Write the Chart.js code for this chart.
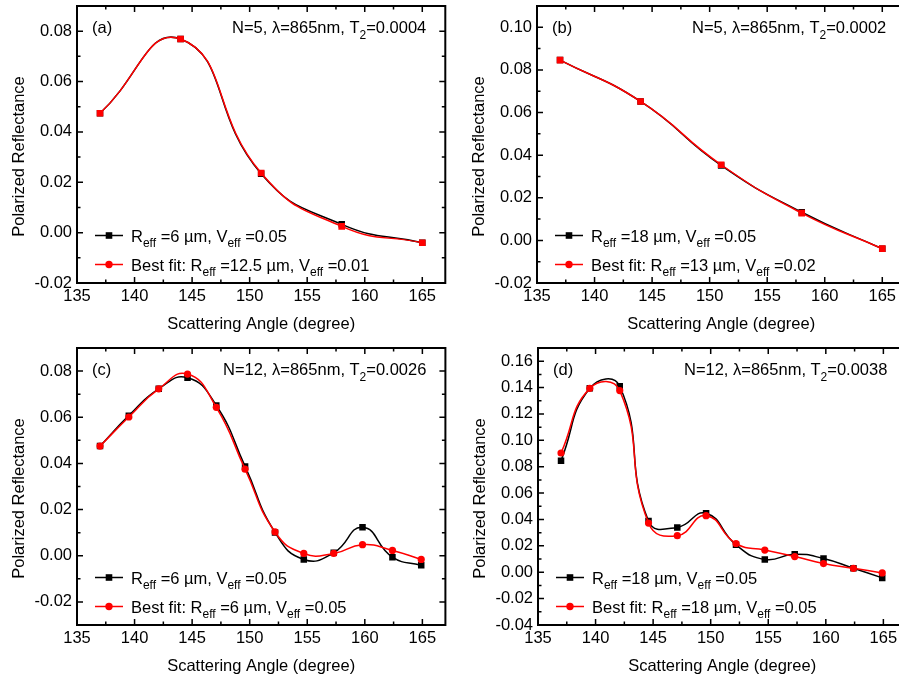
<!DOCTYPE html>
<html>
<head>
<meta charset="utf-8">
<script src="https://cdn.jsdelivr.net/npm/chart.js@4/dist/chart.umd.min.js"></script>
<style>
  html, body { margin: 0; padding: 0; background: #fff; width: 899px; height: 676px; overflow: hidden; position: relative; }
  canvas { position: absolute; }
</style>
</head>
<body>
<canvas id="panelA" width="450" height="338" style="left:0;top:0"></canvas>
<canvas id="panelB" width="450" height="338" style="left:460px;top:0"></canvas>
<canvas id="panelC" width="450" height="338" style="left:0;top:342px"></canvas>
<canvas id="panelD" width="450" height="338" style="left:461px;top:342px"></canvas>
<script>
// scattering angles (degree)
const anglesAB = [137, 144, 151, 158, 165];
const anglesCD = [137, 139.5, 142.1, 144.6, 147.1, 149.6, 152.2, 154.7, 157.3, 159.8, 162.4, 164.9];

// polarized reflectance, simulated (black) and best fit (red)
const simA = [0.0474, 0.0769, 0.0234, 0.0033, -0.0040];
const fitA = [0.0474, 0.0769, 0.0237, 0.0025, -0.0040];
const simB = [0.0846, 0.0652, 0.0352, 0.0132, -0.0039];
const fitB = [0.0846, 0.0652, 0.0355, 0.0128, -0.0039];
const simC = [0.0475, 0.0607, 0.0723, 0.0771, 0.0651, 0.0387, 0.0101, -0.0016, 0.0013, 0.0123, -0.0006, -0.0041];
const fitC = [0.0475, 0.0601, 0.0723, 0.0787, 0.0643, 0.0375, 0.0103, 0.0010, 0.0010, 0.0048, 0.0023, -0.0016];
const simD = [0.0846, 0.1394, 0.1410, 0.0389, 0.0340, 0.0447, 0.0208, 0.0097, 0.0137, 0.0104, 0.0030, -0.0043];
const fitD = [0.0904, 0.1394, 0.1377, 0.0373, 0.0277, 0.0429, 0.0218, 0.0168, 0.0119, 0.0066, 0.0030, -0.0005];

// tick labels
const xTicks = [135, 140, 145, 150, 155, 160, 165];
const yTicksA = [-0.02, 0, 0.02, 0.04, 0.06, 0.08];
const yTicksB = [-0.02, 0, 0.02, 0.04, 0.06, 0.08, 0.10];
const yTicksC = [-0.02, 0, 0.02, 0.04, 0.06, 0.08];
const yTicksD = [-0.04, -0.02, 0, 0.02, 0.04, 0.06, 0.08, 0.10, 0.12, 0.14, 0.16];

// texts (_{..} = subscript)
const panelTags = ['(a)', '(b)', '(c)', '(d)'];
const panelNotes = ['N=5, λ=865nm, T_{2}=0.0004', 'N=5, λ=865nm, T_{2}=0.0002',
                    'N=12, λ=865nm, T_{2}=0.0026', 'N=12, λ=865nm, T_{2}=0.0038'];
const simLabels = ['R_{eff} =6 µm, V_{eff} =0.05', 'R_{eff} =18 µm, V_{eff} =0.05',
                   'R_{eff} =6 µm, V_{eff} =0.05', 'R_{eff} =18 µm, V_{eff} =0.05'];
const fitLabels = ['Best fit: R_{eff} =12.5 µm, V_{eff} =0.01', 'Best fit: R_{eff} =13 µm, V_{eff} =0.02',
                   'Best fit: R_{eff} =6 µm, V_{eff} =0.05', 'Best fit: R_{eff} =18 µm, V_{eff} =0.05'];
const xTitle = 'Scattering Angle (degree)';
const yTitle = 'Polarized Reflectance';

const FONT = "'Liberation Sans', Arial, sans-serif";
const FS = 16.5, SUB_FS = 12;
const RED = '#ff0000';
const TENSION = 0.5;

Chart.defaults.font.family = FONT;
Chart.defaults.font.size = FS;
Chart.defaults.color = '#000';

function parseRuns(s) {
    const out = []; const re = /_\{([^}]*)\}/g; let last = 0, m;
    while ((m = re.exec(s))) {
        if (m.index > last) out.push({ t: s.slice(last, m.index) });
        out.push({ t: m[1], sub: true });
        last = re.lastIndex;
    }
    if (last < s.length) out.push({ t: s.slice(last) });
    return out;
}

// draws text with subscripts, baseline at y
function drawRich(ctx, s, x, y, align) {
    const runs = parseRuns(s);
    let w = 0;
    runs.forEach(r => { ctx.font = (r.sub ? SUB_FS : FS) + 'px ' + FONT; r.w = ctx.measureText(r.t).width; w += r.w; });
    let cx = align === 'right' ? x - w : x;
    ctx.textAlign = 'left'; ctx.textBaseline = 'alphabetic';
    runs.forEach(r => {
        ctx.font = (r.sub ? SUB_FS : FS) + 'px ' + FONT;
        ctx.fillText(r.t, cx, r.sub ? y + 5.5 : y);
        cx += r.w;
    });
}

function minorsOf(majors, min, max) {
    const step = majors[1] - majors[0];
    const m = [majors[0] - step / 2].concat(majors.map(v => v + step / 2));
    return m.filter(v => v > min + 1e-9 && v < max - 1e-9);
}

function marker(ctx, style, x, y, color) {
    ctx.fillStyle = color;
    ctx.beginPath();
    if (style === 'rect') ctx.rect(x - 3.3, y - 3.3, 6.6, 6.6);
    else ctx.arc(x, y, 3.7, 0, Math.PI * 2);
    ctx.fill();
}

// frame with inward ticks, panel texts, legend, axis titles
const deco = {
    id: 'deco',
    afterDatasetsDraw(chart, args, o) {
        const { ctx, chartArea: ca, scales: { x, y } } = chart;
        ctx.save();
        ctx.strokeStyle = '#000';
        ctx.lineWidth = 1.5;
        const vt = (v, len) => {
            const px = x.getPixelForValue(v);
            ctx.beginPath();
            ctx.moveTo(px, ca.bottom); ctx.lineTo(px, ca.bottom - len);
            ctx.moveTo(px, ca.top); ctx.lineTo(px, ca.top + len);
            ctx.stroke();
        };
        const ht = (v, len) => {
            const py = y.getPixelForValue(v);
            ctx.beginPath();
            ctx.moveTo(ca.left, py); ctx.lineTo(ca.left + len, py);
            ctx.moveTo(ca.right, py); ctx.lineTo(ca.right - len, py);
            ctx.stroke();
        };
        xTicks.forEach(v => vt(v, 6));
        minorsOf(xTicks, x.min, x.max).forEach(v => vt(v, 3.5));
        o.yTicks.forEach(v => ht(v, 6));
        minorsOf(o.yTicks, y.min, y.max).forEach(v => ht(v, 3.5));
        ctx.lineWidth = 2;
        ctx.strokeRect(ca.left, ca.top, ca.right - ca.left, ca.bottom - ca.top);

        ctx.fillStyle = '#000';
        ctx.font = FS + 'px ' + FONT;
        ctx.textAlign = 'left'; ctx.textBaseline = 'alphabetic';
        ctx.fillText(o.tag, ca.left + 15, ca.top + 27);
        drawRich(ctx, o.note, ca.right - 19, ca.top + 27, 'right');

        // legend
        const rows = [
            { y: ca.bottom - 47.5, color: '#000', style: 'rect', text: o.simLabel },
            { y: ca.bottom - 18.5, color: RED, style: 'circle', text: o.fitLabel }
        ];
        rows.forEach(r => {
            ctx.strokeStyle = r.color; ctx.lineWidth = 1.5;
            ctx.beginPath(); ctx.moveTo(ca.left + 18, r.y); ctx.lineTo(ca.left + 46, r.y); ctx.stroke();
            marker(ctx, r.style, ca.left + 32, r.y, r.color);
            ctx.fillStyle = '#000';
            drawRich(ctx, r.text, ca.left + 54, r.y + 6);
        });

        // axis titles
        ctx.font = FS + 'px ' + FONT;
        ctx.fillStyle = '#000';
        ctx.textAlign = 'center'; ctx.textBaseline = 'middle';
        ctx.fillText(xTitle, (ca.left + ca.right) / 2, 324);
        ctx.translate(19, (ca.top + ca.bottom) / 2 + 12);
        ctx.rotate(-Math.PI / 2);
        ctx.fillText(yTitle, 0, 0);
        ctx.restore();
    }
};

function makePanel(id, i, angles, sim, fit, yMin, yMax, yTicks, fitStyle) {
    const toXY = arr => arr.map((v, k) => ({ x: angles[k], y: v }));
    return new Chart(document.getElementById(id), {
        type: 'line',
        data: {
            datasets: [
                { data: toXY(sim), borderColor: '#000', backgroundColor: '#000', borderWidth: 1.5, tension: TENSION,
                  pointStyle: 'rect', pointRadius: 4.6, pointBorderWidth: 0, order: 2 },
                { data: toXY(fit), borderColor: RED, backgroundColor: RED, borderWidth: 1.5, tension: TENSION,
                  pointStyle: fitStyle, pointRadius: fitStyle === 'rect' ? 4.7 : 3.6, pointBorderWidth: 0, order: 1 }
            ]
        },
        options: {
            responsive: false,
            animation: false,
            devicePixelRatio: 1,
            layout: { padding: { left: 0, top: 6, right: 1, bottom: 0 } },
            plugins: {
                legend: { display: false },
                tooltip: { enabled: false },
                deco: { tag: panelTags[i], note: panelNotes[i], simLabel: simLabels[i], fitLabel: fitLabels[i], yTicks }
            },
            scales: {
                x: {
                    type: 'linear', min: 135, max: 167,
                    grid: { display: false, drawTicks: false },
                    border: { display: false },
                    afterBuildTicks: s => { s.ticks = xTicks.map(v => ({ value: v })); },
                    afterFit: s => { s.height = 55; s.paddingLeft = 0; s.paddingRight = 0; },
                    ticks: { padding: 4, maxRotation: 0, autoSkip: false, callback: v => String(v) }
                },
                y: {
                    min: yMin, max: yMax,
                    grid: { display: false, drawTicks: false },
                    border: { display: false },
                    afterBuildTicks: s => { s.ticks = yTicks.map(v => ({ value: v })); },
                    afterFit: s => { s.width = 77; s.paddingTop = 0; s.paddingBottom = 0; },
                    ticks: { padding: 5, autoSkip: false, callback: v => v.toFixed(2) }
                }
            }
        },
        plugins: [deco]
    });
}

makePanel('panelA', 0, anglesAB, simA, fitA, -0.02, 0.09, yTicksA, 'rect');
makePanel('panelB', 1, anglesAB, simB, fitB, -0.02, 0.11, yTicksB, 'rect');
makePanel('panelC', 2, anglesCD, simC, fitC, -0.03, 0.09, yTicksC, 'circle');
makePanel('panelD', 3, anglesCD, simD, fitD, -0.04, 0.17, yTicksD, 'circle');
</script>
</body>
</html>
